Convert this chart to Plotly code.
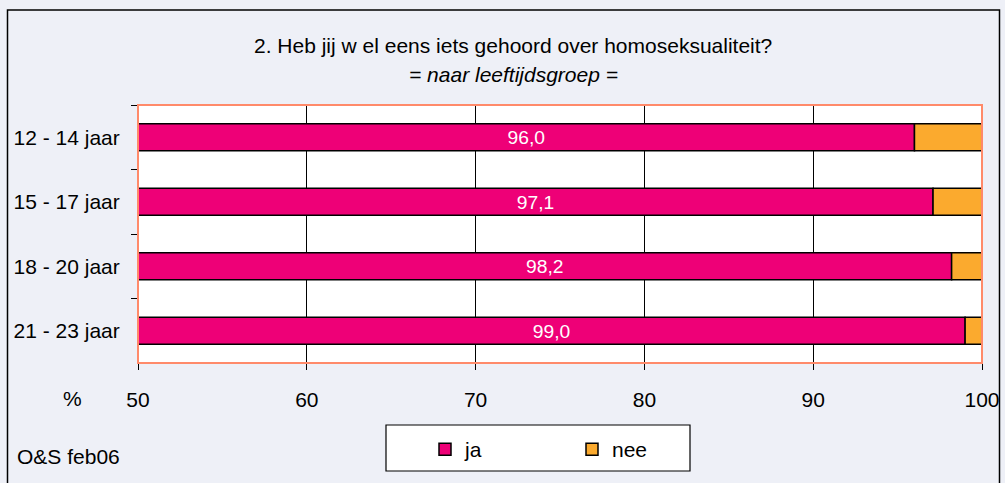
import plotly.graph_objects as go

groups = ["12 - 14 jaar", "15 - 17 jaar", "18 - 20 jaar", "21 - 23 jaar"]
ja = [96.0, 97.1, 98.2, 99.0]
nee = [4.0, 2.9, 1.8, 1.0]
x_ticks = [50, 60, 70, 80, 90, 100]
axis_start = 50

FONT = "Liberation Sans, Arial, sans-serif"
BG = "#EEF0F7"
FS = 21

# pixel -> paper helpers (plot area 138..982 x, 105..363 y)
def px(x):
    return (x - 138) / 844

def py(y):
    return (363 - y) / 258

fig = go.Figure()
fig.add_trace(go.Bar(
    y=groups, x=[v - axis_start for v in ja], base=[axis_start] * len(ja),
    orientation="h", name="ja",
    marker=dict(color="#EE0077", line=dict(color="black", width=1.5)),
    text=[f"{v:.1f}".replace(".", ",") for v in ja],
    textposition="inside", insidetextanchor="middle",
    textfont=dict(color="white", size=FS, family=FONT),
    width=0.42,
))
fig.add_trace(go.Bar(
    y=groups, x=nee, base=ja,
    orientation="h", name="nee",
    marker=dict(color="#FBAA2E", line=dict(color="black", width=1.5)),
    width=0.42, textposition="none",
))

fig.update_layout(
    width=1005, height=483,
    margin=dict(l=138, r=23, t=105, b=120, autoexpand=False),
    paper_bgcolor=BG, plot_bgcolor="white",
    barmode="overlay",
    font=dict(family=FONT, size=FS, color="black"),
    showlegend=True,
    legend=dict(
        orientation="h", x=px(425), xanchor="left", y=py(429), yanchor="top",
        bgcolor="rgba(0,0,0,0)", borderwidth=0,
        entrywidth=102, font=dict(size=FS, family=FONT),
    ),
    xaxis=dict(
        range=[50, 100], tickvals=x_ticks, ticktext=[str(t) for t in x_ticks],
        showgrid=True, gridcolor="black", gridwidth=1,
        ticks="outside", ticklen=6, tickcolor="black",
        ticklabelstandoff=12, zeroline=False, showline=False,
        automargin=False,
    ),
    yaxis=dict(
        categoryorder="array", categoryarray=groups, autorange="reversed",
        ticks="outside", ticklen=6, tickcolor="black", tickson="boundaries",
        showgrid=False, showline=True, linecolor="black", linewidth=1,
        ticklabelstandoff=13, automargin=False,
    ),
    shapes=[
        dict(type="rect", xref="paper", yref="paper", x0=0, x1=1, y0=0, y1=1,
             line=dict(color="#FF8A6A", width=2), layer="above"),
        dict(type="rect", xref="paper", yref="paper",
             x0=px(7.5), x1=px(999.5), y0=py(520), y1=py(10),
             line=dict(color="black", width=1.5), layer="below"),
        dict(type="rect", xref="paper", yref="paper",
             x0=px(386), x1=px(690), y0=py(471), y1=py(425),
             fillcolor="white", line=dict(color="black", width=1.2), layer="below"),
    ],
    annotations=[
        dict(text="2. Heb jij w el eens iets gehoord over homoseksualiteit?",
             xref="paper", yref="paper", x=px(513), y=py(45),
             showarrow=False, xanchor="center", yanchor="middle"),
        dict(text="<i>= naar leeftijdsgroep =</i>",
             xref="paper", yref="paper", x=px(513), y=py(74),
             showarrow=False, xanchor="center", yanchor="middle"),
        dict(text="%", xref="paper", yref="paper", x=px(72), y=py(398),
             showarrow=False, xanchor="center", yanchor="middle"),
        dict(text="O&S feb06", xref="paper", yref="paper", x=px(15),
             y=py(456), showarrow=False, xanchor="left", yanchor="middle"),
    ],
)

fig.write_html("out.html",
               config={"displayModeBar": False},
               post_script="document.body.style.margin='0';document.body.style.padding='0';")
